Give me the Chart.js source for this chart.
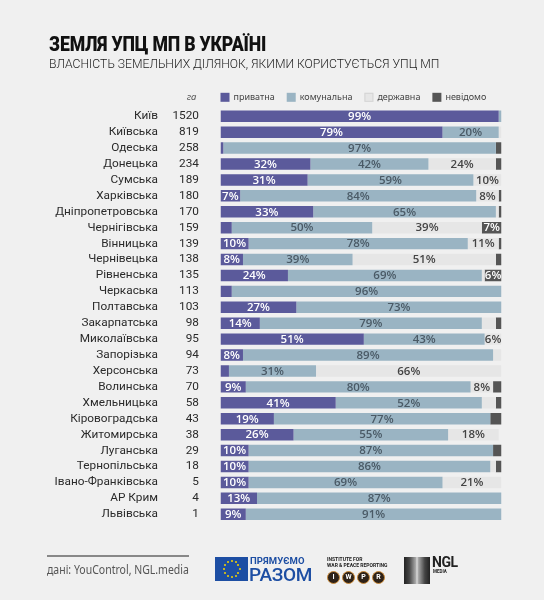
<!DOCTYPE html>
<html><head><meta charset="utf-8">
<script src="https://cdn.jsdelivr.net/npm/chart.js@4.4.0/dist/chart.umd.min.js"></script>
<style>
html,body{margin:0;padding:0;background:#f0f0f0;}
#wrap{position:relative;width:544px;height:600px;overflow:hidden;background:#f0f0f0;font-family:'Noto Sans',sans-serif;}
#c{position:absolute;left:0;top:0;}
.abs{position:absolute;white-space:nowrap;}
#title{left:49px;top:32px;font:900 21px Roboto,sans-serif;color:#111;transform-origin:left top;transform:scaleX(0.84);letter-spacing:-0.2px;}
#subtitle{left:49px;top:55px;font:300 13.5px Roboto,sans-serif;color:#222;transform-origin:left top;transform:scaleX(0.9);}
#rule{left:47px;top:555px;width:142px;height:2px;background:#888;}
#source{left:47px;top:561px;font:12.5px 'Noto Sans',sans-serif;color:#555;transform-origin:left top;transform:scaleX(0.84);}
#eu{left:215px;top:557px;width:33px;height:24px;background:#1d4ea3;}
.star{position:absolute;width:2px;height:2px;background:#f5d300;border-radius:1px;}
#pr1{left:250px;top:555px;font:700 9.5px Roboto,sans-serif;color:#1d4ea3;letter-spacing:0.1px;}
#pr2{left:249px;top:563px;font:500 19px Roboto,sans-serif;color:#1d4ea3;letter-spacing:-0.3px;}
#iw1{left:327px;top:556px;font:700 5px Roboto,sans-serif;color:#222;line-height:6px;}
.circ{position:absolute;top:571px;width:11px;height:11px;border-radius:50%;background:#2e2218;border:1.5px solid #c98a3a;color:#fff;font:700 7px Roboto,sans-serif;text-align:center;line-height:11px;}
#ngl{left:404px;top:557px;width:26px;height:27px;background:linear-gradient(90deg,#222 0%,#444 20%,#aaa 45%,#ddd 50%,#aaa 55%,#444 80%,#222 100%);}
#ngl2{left:432px;top:554px;font:700 14px Roboto,sans-serif;color:#222;letter-spacing:-0.5px;}
#ngl3{left:433px;top:569px;font:700 4.5px Roboto,sans-serif;color:#222;}
</style>
</head><body>
<div id="wrap">
<canvas id="c" width="544" height="600"></canvas>
<div class="abs" id="title">ЗЕМЛЯ УПЦ МП В УКРАЇНІ</div>
<div class="abs" id="subtitle">ВЛАСНІСТЬ ЗЕМЕЛЬНИХ ДІЛЯНОК, ЯКИМИ КОРИСТУЄТЬСЯ УПЦ МП</div>
<div class="abs" id="rule"></div>
<div class="abs" id="source">дані: YouControl, NGL.media</div>
<div class="abs" id="eu"></div>
<div class="abs" id="pr1">ПРЯМУЄМО</div>
<div class="abs" id="pr2">РАЗОМ</div>
<div class="abs" id="iw1">INSTITUTE FOR<br>WAR &amp; PEACE REPORTING</div>
<div class="circ" style="left:327px">I</div>
<div class="circ" style="left:342px">W</div>
<div class="circ" style="left:357px">P</div>
<div class="circ" style="left:372px">R</div>
<div class="abs" id="ngl"></div>
<div class="abs" id="ngl2">NGL</div>
<div class="abs" id="ngl3">MEDIA</div>
</div>
<script>
// ---- data ----
const regions = ['Київ','Київська','Одеська','Донецька','Сумська','Харківська','Дніпропетровська','Чернігівська','Вінницька','Чернівецька','Рівненська','Черкаська','Полтавська','Закарпатська','Миколаївська','Запорізька','Херсонська','Волинська','Хмельницька','Кіровоградська','Житомирська','Луганська','Тернопільська','Івано-Франківська','АР Крим','Львівська'];
const hectares = ['1520','819','258','234','189','180','170','159','139','138','135','113','103','98','95','94','73','70','58','43','38','29','18','5','4','1'];
const privatePct   = [99,79, 1,32,31, 7,33, 4,10, 8,24, 4,27,14,51, 8, 3, 9,41,19,26,10,10,10,13, 9];
const communalPct  = [ 1,20,97,42,59,84,65,50,78,39,69,96,73,79,43,89,31,80,52,77,55,87,86,69,87,91];
const statePct     = [ 0, 1, 0,24,10, 8, 1,39,11,51, 1, 0, 0, 5, 6, 3,66, 8, 5, 0,18, 0, 2,21, 0, 0];
const unknownPct   = [ 0, 0, 2, 2, 0, 1, 1, 7, 1, 2, 6, 0, 0, 2, 0, 0, 0, 3, 2, 4, 0, 3, 2, 0, 0, 0];
const seriesNames  = ['приватна','комунальна','державна','невідомо'];
const unitLabel = 'га';

// ---- style ----
const colors = ['#5b5a9b','#9ab4c3','#e6e6e6','#555555'];
const labelColors = ['#ffffff','#4a5a66','#444444','#ffffff'];
const minLabel = 6;

const segLabels = {
  id:'segLabels',
  afterDatasetsDraw(chart){
    const ctx = chart.ctx;
    ctx.save();
    ctx.font = '600 11.5px "Open Sans", sans-serif';
    ctx.textAlign = 'center';
    ctx.textBaseline = 'middle';
    chart.data.datasets.forEach((ds,i)=>{
      const meta = chart.getDatasetMeta(i);
      meta.data.forEach((el,j)=>{
        const v = ds.data[j];
        if (v >= minLabel){
          ctx.fillStyle = labelColors[i];
          ctx.fillText(v + '%', (el.x + el.base)/2, el.y + 0.5);
        }
      });
    });
    ctx.restore();
  }
};

const customLegend = {
  id:'customLegend',
  afterDraw(chart){
    const ctx = chart.ctx;
    const y = chart.chartArea.top - 11;
    ctx.save();
    ctx.textBaseline = 'middle';
    ctx.font = 'italic 9.5px "Noto Sans", sans-serif';
    ctx.fillStyle = '#555';
    ctx.textAlign = 'right';
    ctx.fillText(unitLabel, chart.scales.yHa.right - 24, y);
    ctx.textAlign = 'left';
    ctx.font = '9px "Noto Sans", sans-serif';
    let x = chart.chartArea.left;
    chart.data.datasets.forEach(ds=>{
      ctx.fillStyle = ds.backgroundColor;
      ctx.fillRect(x, y-4.5, 9, 9);
      if (ds.backgroundColor === colors[2]) { ctx.strokeStyle='#d4d4d4'; ctx.lineWidth=1; ctx.strokeRect(x+0.5,y-4,8,8); }
      x += 13;
      ctx.fillStyle = '#444';
      ctx.fillText(ds.label, x, y);
      x += ctx.measureText(ds.label).width + 12;
    });
    ctx.restore();
  }
};

const series = [privatePct, communalPct, statePct, unknownPct];
new Chart(document.getElementById('c'), {
  type:'bar',
  data:{
    labels: regions,
    datasets: series.map((d,i)=>({
      label: seriesNames[i], data: d, backgroundColor: colors[i],
      borderWidth:0, barPercentage:0.72, categoryPercentage:1
    }))
  },
  options:{
    indexAxis:'y',
    responsive:false,
    animation:false,
    layout:{padding:{top:108.3,bottom:77.8,right:42.5,left:0}},
    plugins:{legend:{display:false},tooltip:{enabled:false}},
    scales:{
      x:{stacked:true,min:0,max:100,display:false},
      y:{stacked:true,position:'left',weight:2,
         grid:{display:false,drawTicks:false},border:{display:false},
         ticks:{color:'#2a2a2a',padding:2,autoSkip:false,font:{family:'Roboto',size:11.8}},
         afterFit(s){s.width=160;}},
      yHa:{type:'category',labels:hectares,position:'left',weight:1,offset:true,
         grid:{display:false,drawTicks:false},border:{display:false},
         ticks:{color:'#2a2a2a',padding:21.5,autoSkip:false,font:{family:'Roboto',size:11.8}},
         afterFit(s){s.width=60.5;}}
    }
  },
  plugins:[segLabels, customLegend]
});

// EU flag stars (decoration)
const eu = document.getElementById('eu');
for (let k=0;k<12;k++){
  const a = k*Math.PI/6;
  const s = document.createElement('div');
  s.className='star';
  s.style.left = (15.5 + 8*Math.cos(a)) + 'px';
  s.style.top = (11 + 8*Math.sin(a)) + 'px';
  eu.appendChild(s);
}
</script>
</body></html>
